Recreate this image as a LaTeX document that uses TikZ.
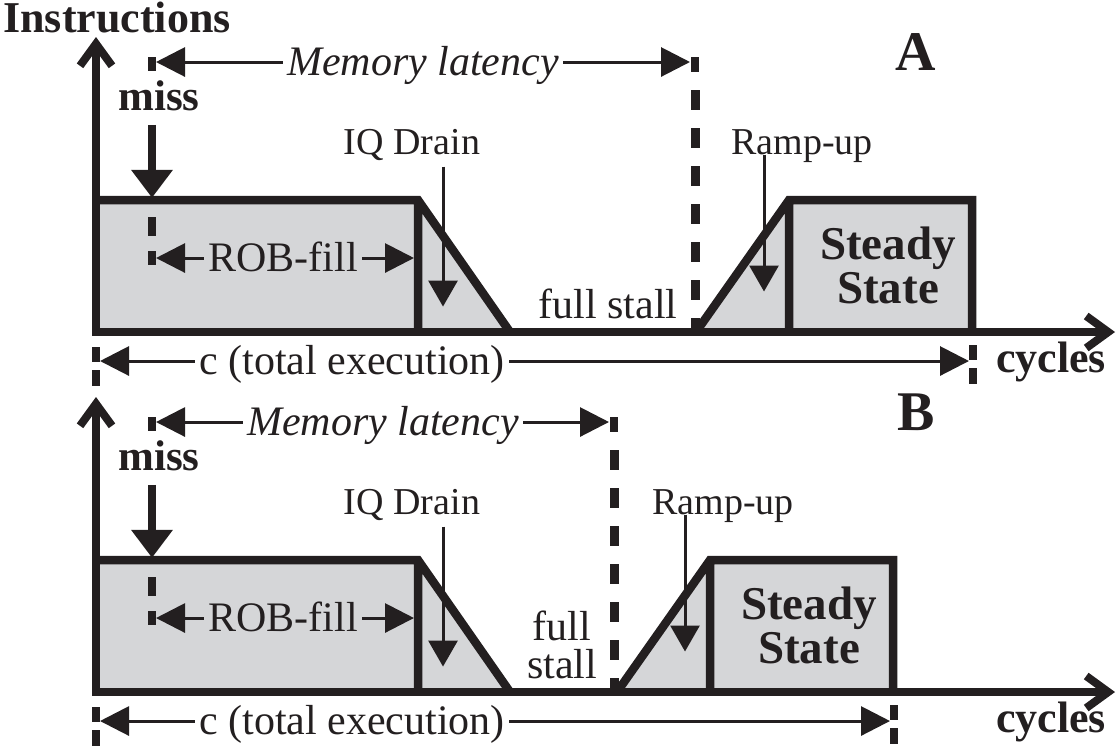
\documentclass[tikz,border=0pt]{standalone}
\usepackage{fontspec}
\setmainfont{Liberation Serif}
\usetikzlibrary{arrows.meta}

\definecolor{ink}{RGB}{35,31,32}
\definecolor{area}{RGB}{213,214,216}

\tikzset{
  lbl/.style={font=\fontsize{21}{24}\selectfont, text=ink, inner sep=2pt},
  onl/.style={lbl, text height=13pt, text depth=0pt},
  note/.style={font=\fontsize{19}{22}\selectfont, text=ink, inner sep=0pt},
  heavy/.style={font=\fontsize{22}{26}\selectfont\bfseries, text=ink, inner sep=0pt},
  axis/.style={draw=ink, line width=4pt, line join=miter,
    {Straight Barb[length=11pt,width=16pt]}-{Straight Barb[length=11pt,width=16pt]}},
  outline/.style={draw=ink, line width=4.25pt, line join=miter},
  dim/.style={draw=ink, line width=1.5pt, -{Triangle[length=14.5pt,width=14.5pt]}},
  pointer/.style={draw=ink, line width=1.5pt, -{Triangle[length=13pt,width=14.5pt]}},
  drop/.style={draw=ink, line width=4pt, -{Triangle[length=14pt,width=20pt]}},
  tickmark/.style={draw=ink, line width=4pt},
  guide/.style={draw=ink, line width=4.5pt, dash pattern=on 10pt off 9pt},
}

\begin{document}
\begin{tikzpicture}[x=0.5pt,y=-0.5pt]
\useasboundingbox (0,0) rectangle (1117,746);
\node[heavy, anchor=base west] (ylabel) at (3,32) {Instructions};
\foreach \p/\s/\d/\g/\mx/\fx/\f in {A/0/0/695/423/608/{full stall},B/360/79/614/383/562/{full\\stall}}{
\begin{scope}[shift={(0,\s)}]
  % shaded areas and their outline
  \fill[area] (96,200) -- (418,200) -- (510,332) -- (96,332) -- cycle;
  \fill[area] (696-\d,332) -- (789-\d,200) -- (972-\d,200) -- (972-\d,332) -- cycle;
  \draw[outline] (96,200) -- (418,200) -- (510,332) (418,200) -- (418,332);
  \draw[outline] (696-\d,332) -- (789-\d,200) -- (972-\d,200) -- (972-\d,332)
    (789-\d,200) -- (789-\d,332);
  \draw[axis] (96,37) -- (96,332) -- (1115,332);
  \node[heavy, font=\fontsize{28}{30}\selectfont\bfseries, anchor=base] (tag\p) at (916,70) {\p};
  \node[heavy, anchor=base] (cyc\p) at (1051,372) {cycles};
  % memory latency
  \node[onl, font=\fontsize{21}{24}\selectfont\itshape] (ml\p) at (\mx,62) {Memory latency};
  \draw[dim] (ml\p.west) -- (156,62);
  \draw[dim] (ml\p.east) -- (\g-5,62);
  \draw[tickmark] (152,57) -- (152,71) (\g,57) -- (\g,72);
  \draw[guide] (\g,90) -- (\g,332);
  % miss and ROB fill
  \node[heavy, font=\fontsize{21.5}{24}\selectfont\bfseries, anchor=base] (miss\p) at (159,110) {miss};
  \draw[drop] ([xshift=-3.5pt,yshift=-7pt]miss\p.south) -- ++(0,73);
  \draw[tickmark] (152,217) -- (152,236) (152,251) -- (152,265);
  \node[onl] (rob\p) at (283,258) {ROB-fill};
  \draw[dim] (rob\p.west) -- (156,258);
  \draw[dim] (rob\p.east) -- (414,258);
  % drain, stall, ramp
  \node[note, anchor=base] (iq\p) at (412,154) {IQ Drain};
  \draw[pointer] ([xshift=15.5pt,yshift=-3pt]iq\p.south) -- ++(0,140);
  \node[lbl, font=\fontsize{21}{19}\selectfont, inner sep=0pt, align=center, anchor=south] (stall\p) at (\fx,319) {\f};
  \node[note, anchor=base] (ramp\p) at (802-\d,154) {Ramp-up};
  \draw[pointer] ([xshift=-19pt,yshift=4pt]ramp\p.south) -- ++(0,137);
  \node[heavy, font=\fontsize{23.5}{22}\selectfont\bfseries, align=center, anchor=south] (steady\p) at (888-\d,304) {Steady\\State};
  % total execution
  \node[onl] (c\p) at (352,361) {c (total execution)};
  \draw[dim] (c\p.west) -- (100,361);
  \draw[dim] (c\p.east) -- (969-\d,361);
  \draw[tickmark] (96,347) -- (96,362) (96,370) -- (96,386)
    (973-\d,345) -- (973-\d,360) (973-\d,368) -- (973-\d,384);
\end{scope}}
\end{tikzpicture}
\end{document}
